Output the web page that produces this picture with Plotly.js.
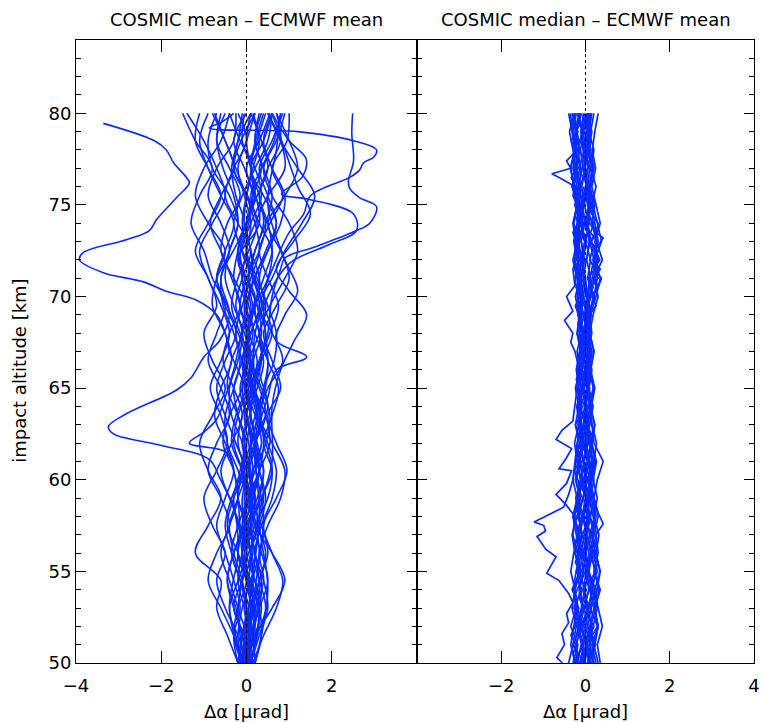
<!DOCTYPE html>
<html>
<head>
<meta charset="utf-8">
<script src="https://cdn.plot.ly/plotly-3.0.1.min.js"></script>
<style>html,body{margin:0;padding:0;background:#fff;}#chart{width:763px;height:723px;}</style>
</head>
<body>
<div id="chart"></div>
<script>
// ---------- DATA ----------
const titleLeft = "COSMIC mean – ECMWF mean";
const titleRight = "COSMIC median – ECMWF mean";
const xLabel = "Δα [μrad]";
const yLabel = "impact altitude [km]";
const xTicksLeft = [-4, -2, 0, 2];
const xTicksRight = [-2, 0, 2, 4];
const yTicks = [50, 55, 60, 65, 70, 75, 80];

// left panel: mean profiles (µrad) at these altitudes (km)
const altLeft = [50, 51.5, 53, 54.5, 56, 57.5, 59, 60.5, 62, 63.5, 65, 66.5, 68, 69.5, 71, 72.5, 74, 75.5, 77, 78.5, 80];
const leftProfiles = [
  [0.0,0.05,0.1,0.0,-0.1,0.05,0.15,0.1,-0.05,0.0,0.1,0.05,-0.1,0.0,0.15,0.1,-0.05,0.0,0.1,-0.1,-0.05],
  [-0.1,-0.05,0.05,0.15,0.1,-0.05,-0.1,0.05,0.2,0.1,-0.05,0.0,0.15,0.05,-0.1,-0.2,0.0,0.2,0.1,0.0,0.1],
  [0.1,0.2,0.15,0.0,0.1,0.25,0.2,0.05,0.1,0.25,0.15,0.0,0.05,0.2,0.3,0.1,0.0,0.15,0.35,0.2,0.3],
  [-0.05,-0.15,-0.2,-0.1,0.0,-0.2,-0.3,-0.15,-0.05,-0.2,-0.3,-0.1,0.0,-0.15,-0.3,-0.2,-0.05,-0.25,-0.35,-0.2,-0.1],
  [0.05,0.1,0.3,0.35,0.2,0.1,0.3,0.4,0.25,0.1,0.2,0.35,0.3,0.15,0.05,0.2,0.4,0.3,0.1,0.25,0.45],
  [-0.15,-0.1,0.0,-0.1,-0.3,-0.4,-0.2,0.0,-0.1,-0.35,-0.4,-0.2,-0.1,-0.3,-0.5,-0.4,-0.2,-0.3,-0.55,-0.7,-0.6],
  [0.2,0.15,0.0,-0.1,0.05,0.3,0.45,0.3,0.1,0.2,0.4,0.5,0.3,0.2,0.4,0.6,0.5,0.3,0.5,0.8,0.7],
  [0.0,-0.1,-0.3,-0.45,-0.3,-0.1,0.0,-0.2,-0.45,-0.5,-0.3,-0.15,-0.3,-0.55,-0.6,-0.4,-0.2,-0.4,-0.8,-0.9,-0.7],
  [0.1,0.3,0.5,0.4,0.2,0.35,0.6,0.7,0.5,0.3,0.4,0.65,0.7,0.5,0.3,0.5,0.8,0.9,0.6,0.4,0.6],
  [-0.1,-0.2,-0.1,0.1,0.2,0.0,-0.2,-0.1,0.1,0.25,0.1,-0.1,-0.25,-0.1,0.1,0.3,0.2,0.0,-0.3,-0.2,0.1],
  [-0.2,-0.45,-0.7,-0.6,-1.2,-0.9,-0.6,-0.9,-1.1,-0.8,-0.5,-0.8,-1.0,-0.7,-0.9,-1.2,-0.9,-0.6,-0.9,-1.2,-1.1],
  [0.15,0.4,0.7,0.85,0.6,0.4,0.7,0.95,0.7,0.5,0.8,0.6,0.4,0.7,1.0,0.8,0.5,0.9,1.2,1.0,0.7],
  [-0.05,-0.3,-0.6,-0.9,-0.7,-0.4,-0.6,-0.9,-0.7,-0.4,-0.6,-0.9,-0.7,-0.5,-0.8,-1.0,-1.3,-1.1,-0.8,-1.2,-1.5],
  [0.0,0.2,0.35,0.2,0.0,0.2,0.5,0.6,0.4,0.6,0.75,0.5,0.3,0.55,0.9,1.2,1.0,0.6,0.4,0.7,0.9],
  [0.05,0.0,-0.2,-0.4,-0.6,-0.4,-0.2,-0.3,-0.55,-0.4,-0.1,0.0,-0.2,-0.5,-0.7,-0.5,-0.9,-1.2,-1.0,-0.6,-0.4],
  [-0.1,0.0,0.15,0.3,0.5,0.35,0.1,0.0,0.2,0.45,0.3,0.05,0.1,0.35,0.2,-0.1,-0.3,-0.1,0.2,0.5,0.6],
  [0.2,0.35,0.3,0.1,-0.1,0.0,0.25,0.4,0.2,0.0,-0.15,0.05,0.3,0.45,0.25,0.0,0.2,0.5,0.9,0.8,0.5],
  [-0.2,-0.3,-0.15,-0.3,-0.5,-0.7,-0.5,-0.3,-0.5,-0.75,-0.6,-0.35,-0.5,-0.8,-0.7,-0.4,-0.6,-0.9,-0.7,-0.3,-0.25],
  [0.0,0.1,-0.05,-0.2,-0.1,0.1,0.2,0.0,-0.2,-0.1,0.1,0.25,0.05,-0.15,0.0,0.3,0.45,0.2,0.0,0.3,0.55],
  [0.1,0.05,0.2,0.4,0.3,0.5,0.8,0.9,0.6,0.3,0.5,0.85,0.6,0.3,0.6,0.9,1.3,1.6,1.2,0.8,0.5],
  [-0.05,0.05,0.0,-0.15,-0.35,-0.2,0.0,-0.1,-0.3,-0.2,0.05,0.15,-0.05,-0.25,-0.1,0.1,-0.2,-0.5,-0.3,0.0,-0.2],
  [0.05,0.15,0.25,0.15,0.3,0.2,0.0,0.15,0.35,0.2,0.0,0.15,0.35,0.25,0.05,0.2,0.45,0.6,0.4,0.2,0.35],
  [-0.15,-0.25,-0.4,-0.2,0.0,-0.15,-0.4,-0.6,-0.35,-0.1,-0.3,-0.55,-0.4,-0.15,-0.35,-0.6,-0.85,-0.6,-0.3,-0.5,-0.8],
  [0.0,0.2,0.6,0.9,0.6,0.2,0.1,0.3,0.2,0.0,0.25,0.4,0.2,0.0,0.2,0.45,0.7,0.5,0.3,0.6,0.85],
  [0.1,-0.05,-0.3,-0.1,0.15,0.05,-0.2,-0.05,0.2,0.35,0.15,-0.05,0.1,0.3,0.15,-0.1,0.1,0.35,0.2,-0.15,-0.4],
  [-0.05,0.1,0.3,0.5,0.35,0.15,0.35,0.6,0.45,0.25,0.1,0.3,0.55,0.75,0.5,0.3,0.55,0.85,0.6,0.95,1.0],
  [0.0,-0.2,-0.5,-0.7,-0.5,-0.8,-1.0,-0.7,-0.45,-0.6,-0.85,-0.6,-0.4,-0.6,-0.9,-1.1,-0.8,-0.5,-0.7,-1.0,-1.4],
  [0.15,0.05,0.1,0.3,0.45,0.25,0.05,0.2,0.45,0.55,0.35,0.1,0.0,0.2,0.5,0.6,0.3,0.1,0.35,0.65,0.8],
  [-0.1,-0.3,-0.2,0.0,-0.2,-0.45,-0.3,-0.05,-0.25,-0.5,-0.7,-0.5,-0.25,-0.45,-0.7,-0.5,-0.3,-0.6,-0.9,-1.1,-0.9],
  [0.05,0.0,0.1,0.05,-0.05,0.1,0.05,-0.1,0.0,0.1,0.0,-0.1,0.05,0.1,-0.05,-0.15,0.05,0.15,-0.05,-0.3,0.0],
  [0.0,0.05,-0.05,0.05,0.1,0.0,-0.05,0.05,0.1,0.0,-0.1,-0.05,0.05,0.0,-0.1,0.0,0.1,-0.05,-0.2,0.0,0.2],
  [-0.05,0.0,0.1,0.0,-0.1,-0.05,0.05,0.15,0.05,-0.05,0.05,0.1,0.0,-0.05,0.05,0.0,-0.1,0.0,0.15,0.3,0.1],
  [0.1,0.25,0.45,0.3,0.1,-0.1,0.05,0.3,0.55,0.45,0.2,0.35,0.6,0.4,0.2,0.5,0.7,0.4,0.1,0.4,0.6],
  [-0.2,-0.1,0.05,-0.15,-0.35,-0.5,-0.35,-0.1,0.0,-0.2,-0.45,-0.35,-0.1,0.0,-0.3,-0.6,-0.45,-0.15,-0.4,-0.7,-0.5],
  [0.0,0.1,0.2,0.0,-0.2,-0.05,0.15,0.3,0.15,0.0,0.15,0.3,0.45,0.25,0.0,-0.2,0.0,0.25,0.5,0.35,0.15],
  [0.05,-0.1,-0.25,-0.45,-0.3,-0.05,0.1,-0.1,-0.35,-0.25,0.0,0.1,-0.15,-0.35,-0.2,0.05,0.25,0.0,-0.25,-0.5,-0.75]
];
// left panel: outlying profiles, each with its own altitudes
const leftOutlierAlts = [
  [50, 53, 56, 59, 62, 64, 66, 67, 68, 69, 69.8, 70.3, 70.8, 71.3, 72.0, 72.4, 73.1, 73.6, 74.2, 75.4, 76.2, 76.5, 77.3, 78.0, 78.5, 79.45],
  [50, 53, 56, 58.5, 59.5, 60.1, 61.1, 61.9, 62.5, 62.9, 63.6, 64.9, 65.6, 66.7, 67.6, 69, 71, 73, 75, 77, 80],
  [50, 53, 56, 59, 60.5, 61.5, 62.0, 62.6, 63.3, 64.5, 66, 68, 70, 72, 74, 77, 80],
  [50, 53, 56, 59, 62, 64, 66, 68, 70, 71.5, 72.1, 72.7, 73.6, 74.0, 74.9, 75.4, 75.9, 76.3, 77.4, 78.9, 80],
  [50, 54, 58, 62, 66, 70, 72, 73.5, 74.5, 75.5, 76.5, 76.9, 77.3, 77.6, 78.0, 78.5, 79.0, 79.2, 79.5, 80],
  [50, 54, 58, 61, 63, 64.5, 66.0, 66.7, 67.6, 69, 70.3, 72, 75, 78, 80],
  [50, 54, 58, 61, 64, 66, 67.5, 69.0, 70.3, 71.5, 73, 74.5, 76, 78, 80],
  [50, 54, 58, 62, 65, 68, 70, 71.8, 72.8, 73.6, 74.5, 75.3, 75.6, 76.5, 77.5, 78.5, 80]
];
const leftOutlierVals = [
  [0.1, 0.3, -0.2, 0.2, -0.1, 0.1, -0.2, -0.4, -0.5, -0.7, -1.17, -1.9, -2.42, -3.36, -3.92, -3.83, -2.82, -2.28, -2.11, -1.64, -1.34, -1.41, -1.71, -1.88, -2.16, -3.36],
  [-0.1, -0.4, -0.2, -0.3, -0.5, -0.63, -0.87, -2.04, -3.12, -3.24, -2.82, -1.64, -1.29, -1.0, -0.63, -0.4, -0.6, -0.2, 0.1, -0.3, 0.2],
  [0.05, 0.2, -0.1, -0.2, -0.3, -0.47, -1.34, -1.0, -0.70, -0.5, -0.3, -0.1, 0.2, -0.2, 0.3, 0.1, 0.4],
  [0.1, 0.3, 0.1, 0.4, 0.2, 0.5, 0.3, 0.5, 0.6, 0.8, 0.9, 1.6, 2.58, 2.89, 3.05, 2.65, 2.42, 2.39, 2.51, 2.47, 2.49],
  [-0.1, 0.1, 0.3, 0.2, 0.5, 0.4, 0.7, 1.0, 1.34, 1.5, 2.42, 2.65, 2.75, 2.98, 3.05, 2.51, 1.2, -0.87, -0.6, -0.3],
  [0.0, 0.2, 0.4, 0.2, 0.3, 0.5, 0.7, 1.41, 0.7, 0.9, 1.2, 0.9, 0.5, 0.7, 0.8],
  [0.2, 0.5, 0.3, 0.6, 0.6, 0.8, 1.1, 1.41, 1.0, 0.7, 1.1, 1.5, 1.2, 0.9, 0.6],
  [0.0, 0.3, 0.1, 0.4, 0.2, 0.2, 0.5, 1.0, 1.9, 2.58, 2.51, 1.48, 0.82, 1.3, 1.4, 1.0, 0.6]
];

// right panel: median profiles (µrad) at these altitudes (km)
const altRight = [50, 51, 52, 53, 54, 55, 56, 57, 58, 59, 60, 61, 62, 63, 64, 65, 66, 67, 68, 69, 70, 71, 72, 73, 74, 75, 76, 77, 78, 79, 80];
const rightProfiles = [
  [-0.05,0.02,-0.08,0.05,-0.02,0.08,-0.04,0.03,-0.07,0.06,-0.01,0.04,-0.06,0.02,-0.03,0.05,-0.08,0.0,-0.05,0.04,-0.1,-0.02,-0.07,0.03,-0.12,-0.04,-0.09,0.0,-0.06,-0.11,-0.03],
  [0.1,0.18,0.05,0.14,0.22,0.08,0.16,0.02,0.12,0.2,0.06,0.15,0.1,0.04,0.13,0.07,0.02,0.11,0.05,-0.02,0.06,0.12,0.03,0.09,-0.01,0.07,0.02,-0.04,0.05,0.1,0.03],
  [-0.15,-0.22,-0.1,-0.18,-0.25,-0.12,-0.2,-0.08,-0.16,-0.23,-0.11,-0.19,-0.07,-0.14,-0.21,-0.09,-0.17,-0.12,-0.2,-0.15,-0.24,-0.13,-0.18,-0.26,-0.15,-0.22,-0.3,-0.18,-0.25,-0.2,-0.28],
  [0.25,0.15,0.3,0.2,0.12,0.28,0.18,0.1,0.22,0.14,0.05,0.18,0.1,0.02,0.12,0.06,-0.02,0.08,0.0,0.1,0.18,0.05,0.12,0.0,0.08,-0.03,0.05,0.1,-0.02,0.04,0.12],
  [-0.3,-0.18,-0.35,-0.22,-0.28,-0.15,-0.25,-0.32,-0.2,-0.12,-0.24,-0.16,-0.08,-0.18,-0.1,-0.2,-0.13,-0.05,-0.15,-0.08,-0.18,-0.25,-0.15,-0.22,-0.3,-0.2,-0.27,-0.35,-0.25,-0.3,-0.22],
  [0.0,-0.08,0.05,-0.03,0.08,0.0,-0.06,0.04,0.1,0.02,-0.05,0.06,0.0,0.08,0.02,-0.04,0.05,0.1,0.03,-0.02,0.04,0.0,-0.08,-0.02,-0.1,-0.05,0.02,-0.06,-0.12,-0.04,0.05],
  [0.35,0.28,0.4,0.3,0.22,0.34,0.25,0.32,0.2,0.28,0.18,0.26,0.15,0.22,0.1,0.2,0.12,0.05,0.15,0.1,0.2,0.28,0.18,0.3,0.22,0.15,0.25,0.12,0.2,0.08,0.15],
  [-0.12,-0.05,-0.18,-0.1,-0.02,-0.14,-0.06,-0.16,-0.08,0.0,-0.1,-0.04,-0.12,-0.06,0.0,-0.08,-0.02,-0.1,-0.04,-0.12,-0.06,-0.16,-0.08,-0.2,-0.12,-0.18,-0.1,-0.22,-0.14,-0.2,-0.26],
  [0.15,0.22,0.3,0.2,0.28,0.35,0.24,0.16,0.25,0.18,0.1,0.2,0.26,0.16,0.08,0.18,0.1,0.15,0.06,0.12,0.25,0.35,0.22,0.38,0.28,0.18,0.1,0.2,0.12,0.06,0.14],
  [-0.4,-0.3,-0.22,-0.32,-0.25,-0.35,-0.28,-0.18,-0.26,-0.2,-0.3,-0.22,-0.15,-0.24,-0.16,-0.1,-0.2,-0.14,-0.06,-0.16,-0.1,-0.2,-0.3,-0.2,-0.28,-0.18,-0.26,-0.36,-0.26,-0.32,-0.4],
  [0.05,0.12,0.0,0.08,0.15,0.05,0.12,0.2,0.1,0.04,0.14,0.08,0.16,0.06,0.1,0.02,0.08,0.0,0.06,0.14,0.04,0.1,0.2,0.1,0.02,0.12,0.04,-0.04,0.02,-0.06,0.0],
  [-0.22,-0.1,-0.18,-0.08,-0.15,-0.05,-0.12,-0.2,-0.1,-0.16,-0.06,-0.14,-0.04,-0.1,-0.18,-0.06,-0.12,-0.02,-0.08,-0.15,-0.05,-0.12,-0.02,-0.1,-0.18,-0.08,-0.14,-0.24,-0.15,-0.22,-0.12],
  [0.2,0.1,0.18,0.28,0.16,0.24,0.12,0.2,0.3,0.2,0.12,0.22,0.14,0.05,0.14,0.22,0.12,0.2,0.1,0.02,0.1,0.16,0.26,0.14,0.05,0.14,0.08,0.16,0.06,0.12,0.2],
  [-0.08,0.0,-0.12,-0.04,-0.14,-0.06,0.02,-0.08,-0.16,-0.06,0.02,-0.06,-0.12,-0.03,0.04,-0.04,-0.1,-0.04,0.03,-0.05,-0.12,-0.2,-0.1,-0.16,-0.06,-0.14,-0.22,-0.12,-0.18,-0.08,-0.16],
  [0.08,0.0,0.1,0.2,0.1,0.02,0.12,0.04,-0.04,0.06,0.14,0.05,-0.02,0.06,0.0,0.08,0.15,0.06,0.0,0.08,0.02,-0.06,0.02,0.1,0.0,-0.08,0.0,0.06,-0.04,0.02,0.1],
  [-0.25,-0.35,-0.28,-0.2,-0.3,-0.22,-0.14,-0.22,-0.3,-0.2,-0.12,-0.2,-0.26,-0.16,-0.08,-0.16,-0.22,-0.14,-0.06,-0.12,-0.2,-0.12,-0.2,-0.28,-0.2,-0.12,-0.2,-0.3,-0.22,-0.3,-0.36],
  [0.3,0.2,0.12,0.24,0.32,0.22,0.14,0.26,0.18,0.08,0.16,0.24,0.14,0.22,0.12,0.04,0.12,0.2,0.1,0.02,0.12,0.2,0.3,0.22,0.35,0.25,0.15,0.24,0.16,0.22,0.3],
  [-0.02,0.06,-0.04,0.04,-0.06,0.02,0.08,-0.02,0.05,-0.05,0.03,-0.03,0.05,-0.04,0.02,-0.06,0.0,0.06,-0.02,0.04,-0.04,-0.12,-0.04,-0.1,-0.02,-0.08,-0.16,-0.08,-0.02,-0.1,-0.05],
  [0.12,0.04,0.14,0.06,0.18,0.08,0.0,0.1,0.02,0.12,0.2,0.1,0.02,0.1,0.18,0.08,0.14,0.04,0.1,0.18,0.3,0.2,0.4,0.26,0.15,0.22,0.1,0.18,0.08,0.15,0.05],
  [-0.18,-0.28,-0.16,-0.24,-0.12,-0.2,-0.1,-0.18,-0.26,-0.15,-0.22,-0.12,-0.2,-0.1,-0.16,-0.24,-0.14,-0.2,-0.1,-0.18,-0.08,-0.16,-0.26,-0.18,-0.28,-0.2,-0.32,-0.22,-0.3,-0.38,-0.26]
];
// right panel: finer-sampled median profiles (every 0.5 km)
const altRightFine = [50, 50.5, 51, 51.5, 52, 52.5, 53, 53.5, 54, 54.5,
  55, 55.5, 56, 56.5, 57, 57.5, 58, 58.5, 59, 59.5,
  60, 60.5, 61, 61.5, 62, 62.5, 63, 63.5, 64, 64.5,
  65, 65.5, 66, 66.5, 67, 67.5, 68, 68.5, 69, 69.5,
  70, 70.5, 71, 71.5, 72, 72.5, 73, 73.5, 74, 74.5,
  75, 75.5, 76, 76.5, 77, 77.5, 78, 78.5, 79, 79.5, 80];
const rightFineProfiles = [
  [-0.08,-0.15,-0.05,-0.12,-0.2,-0.1,-0.04,-0.14,-0.08,-0.18,
   -0.1,-0.02,-0.12,-0.06,-0.16,-0.09,-0.03,-0.13,-0.07,-0.17,
   -0.11,-0.05,-0.14,-0.08,-0.02,-0.1,-0.16,-0.06,-0.12,-0.04,
   -0.1,-0.18,-0.08,-0.14,-0.05,-0.11,-0.2,-0.1,-0.15,-0.07,
   -0.13,-0.22,-0.12,-0.18,-0.08,-0.14,-0.24,-0.13,-0.19,-0.1,
   -0.16,-0.25,-0.14,-0.2,-0.12,-0.18,-0.28,-0.16,-0.22,-0.12,-0.2],
  [0.05,0.15,0.02,0.1,0.2,0.06,0.14,0.0,0.09,0.18,
   0.04,0.12,0.22,0.08,0.16,0.03,0.11,0.02,0.1,0.05,
   0.13,0.04,0.1,0.0,0.07,0.14,0.03,0.09,-0.02,0.05,
   0.1,0.01,0.06,-0.03,0.04,0.1,0.0,0.05,0.12,0.02,
   0.08,0.18,0.06,0.22,0.1,0.16,0.28,0.12,0.2,0.06,
   0.12,0.02,0.08,-0.02,0.05,0.1,0.0,0.06,-0.04,0.03,0.08],
  [-0.25,-0.18,-0.3,-0.2,-0.12,-0.24,-0.16,-0.28,-0.2,-0.1,
   -0.22,-0.14,-0.26,-0.18,-0.1,-0.2,-0.3,-0.16,-0.22,-0.12,
   -0.18,-0.26,-0.15,-0.2,-0.1,-0.17,-0.24,-0.13,-0.19,-0.09,
   -0.15,-0.22,-0.12,-0.18,-0.08,-0.14,-0.2,-0.1,-0.17,-0.24,
   -0.14,-0.2,-0.1,-0.18,-0.27,-0.15,-0.22,-0.3,-0.18,-0.25,
   -0.15,-0.22,-0.32,-0.2,-0.27,-0.17,-0.24,-0.34,-0.22,-0.3,-0.25],
  [0.0,-0.08,0.04,-0.04,-0.12,-0.02,0.06,-0.06,0.02,-0.1,
   0.0,0.08,-0.03,0.04,-0.07,0.01,0.07,-0.04,0.03,-0.08,
   -0.02,0.05,-0.06,0.0,-0.1,-0.03,0.03,-0.07,-0.01,-0.12,
   -0.05,0.02,-0.08,-0.02,-0.11,-0.04,0.01,-0.09,-0.03,-0.13,
   -0.06,0.0,-0.1,-0.04,-0.14,-0.07,-0.01,-0.11,-0.05,-0.15,
   -0.08,-0.02,-0.12,-0.06,-0.16,-0.09,-0.03,-0.13,-0.07,-0.15,-0.1],
  [-0.2,-0.3,-0.22,-0.35,-0.25,-0.15,-0.28,-0.2,-0.32,-0.22,
   -0.14,-0.24,-0.16,-0.26,-0.18,-0.1,-0.2,-0.12,-0.22,-0.15,
   -0.08,-0.17,-0.1,-0.2,-0.12,-0.05,-0.14,-0.07,-0.16,-0.1,
   -0.18,-0.11,-0.2,-0.13,-0.06,-0.15,-0.09,-0.18,-0.12,-0.22,
   -0.14,-0.08,-0.17,-0.26,-0.16,-0.24,-0.14,-0.2,-0.1,-0.18,
   -0.26,-0.16,-0.24,-0.34,-0.22,-0.3,-0.2,-0.28,-0.18,-0.26,-0.32],
  [0.2,0.12,0.24,0.16,0.28,0.2,0.1,0.18,0.26,0.14,
   0.22,0.3,0.18,0.25,0.12,0.2,0.1,0.16,0.06,0.13,
   0.04,0.11,0.18,0.08,0.14,0.03,0.1,0.0,0.07,0.14,
   0.05,0.12,0.02,0.08,0.15,0.04,0.1,0.0,0.06,0.13,
   0.22,0.12,0.3,0.2,0.34,0.24,0.14,0.26,0.16,0.08,
   0.15,0.05,0.12,0.2,0.1,0.04,0.12,0.02,0.08,-0.02,0.05]
];
// right panel: outlying median profiles, each with its own altitudes
const rightOutlierAlts = [
  [72, 73, 74, 75, 75.5, 76, 76.4, 76.7, 77.0, 77.4, 78, 79, 80],
  [66, 67, 68, 69, 69.5, 70, 70.5, 71, 71.5, 72, 72.5, 73, 73.2, 73.5, 74, 74.5, 75, 76, 77],
  [67, 68, 69, 70, 70.5, 71, 71.5, 72, 72.5, 73, 73.5, 74, 75, 76],
  [64, 65, 66, 67, 67.5, 68, 68.7, 69.2, 70.0, 70.6, 71.5, 72.5, 74],
  [50, 50.3, 51.0, 51.6, 52.2, 52.7, 53.3, 53.8, 54.5, 54.9, 55.4, 55.8, 56.2, 56.9, 57.2, 57.5, 57.7, 58.2, 58.5, 59.2, 60, 61, 62],
  [56, 57, 58, 58.6, 59.2, 59.8, 60.5, 60.6, 61.2, 61.7, 62.2, 62.7, 63.2, 64, 65, 66],
  [50, 51, 52, 53, 54, 55, 56, 57, 57.6, 58.2, 59, 60, 61, 62, 63, 64]
];
const rightOutlierVals = [
  [-0.1, -0.2, -0.15, -0.2, -0.3, -0.25, -0.55, -0.8, -0.35, -0.45, -0.2, -0.25, -0.15],
  [0.0, 0.08, 0.05, 0.1, 0.25, 0.15, 0.3, 0.38, 0.2, 0.3, 0.22, 0.35, 0.42, 0.25, 0.3, 0.15, 0.1, 0.05, 0.0],
  [-0.05, 0.05, 0.0, 0.12, 0.3, 0.22, 0.35, 0.18, 0.28, 0.12, 0.24, 0.1, 0.05, -0.05],
  [-0.1, -0.2, -0.15, -0.25, -0.35, -0.3, -0.5, -0.3, -0.45, -0.25, -0.3, -0.15, -0.2],
  [-0.55, -0.68, -0.5, -0.56, -0.4, -0.45, -0.3, -0.4, -0.63, -0.92, -0.8, -0.7, -0.94, -1.15, -0.95, -0.99, -1.22, -0.8, -0.52, -0.4, -0.3, -0.25, -0.2],
  [-0.2, -0.3, -0.25, -0.45, -0.7, -0.45, -0.33, -0.63, -0.45, -0.33, -0.7, -0.56, -0.3, -0.25, -0.2, -0.15],
  [0.1, 0.2, 0.3, 0.22, 0.35, 0.2, 0.3, 0.25, 0.42, 0.3, 0.2, 0.28, 0.42, 0.2, 0.15, 0.1]
];

// ---------- PLOT ----------
const BLUE = "#0a2bff";
const FONT = "DejaVu Sans, Noto Sans, sans-serif";
const traces = [];
const leftLine = {color: BLUE, width: 1.6, shape: "spline", smoothing: 1};
const rightLine = {color: BLUE, width: 1.7};
leftProfiles.forEach(v => traces.push({x: v, y: altLeft, xaxis: "x", yaxis: "y", mode: "lines", line: leftLine, hoverinfo: "skip"}));
leftOutlierVals.forEach((v, i) => traces.push({x: v, y: leftOutlierAlts[i], xaxis: "x", yaxis: "y", mode: "lines", line: leftLine, hoverinfo: "skip"}));
rightProfiles.forEach(v => traces.push({x: v, y: altRight, xaxis: "x2", yaxis: "y2", mode: "lines", line: rightLine, hoverinfo: "skip"}));
rightFineProfiles.forEach(v => traces.push({x: v, y: altRightFine, xaxis: "x2", yaxis: "y2", mode: "lines", line: rightLine, hoverinfo: "skip"}));
rightOutlierVals.forEach((v, i) => traces.push({x: v, y: rightOutlierAlts[i], xaxis: "x2", yaxis: "y2", mode: "lines", line: rightLine, hoverinfo: "skip"}));

const xCommon = {range: [-4, 4], showgrid: false, zeroline: false, showline: true, linecolor: "#000", linewidth: 1,
  mirror: "ticks", ticks: "inside", ticklen: 12, tickcolor: "#000", tickwidth: 1, ticklabelstandoff: 6,
  tickfont: {family: FONT, size: 18, color: "#000"}, title: {text: xLabel, font: {family: FONT, size: 18, color: "#000"}, standoff: 10}};
const yCommon = {range: [50, 84], showgrid: false, zeroline: false, showline: true, linecolor: "#000", linewidth: 1,
  mirror: "ticks", ticks: "inside", ticklen: 10, tickcolor: "#000", tickwidth: 1, tickvals: yTicks,
  minor: {tick0: 50, dtick: 1, ticks: "inside", ticklen: 5, tickcolor: "#000", tickwidth: 1, showgrid: false},
  tickfont: {family: FONT, size: 18, color: "#000"}};

const layout = {
  width: 763, height: 723,
  margin: {l: 76, r: 9, t: 40, b: 60},
  paper_bgcolor: "#fff", plot_bgcolor: "#fff",
  showlegend: false,
  xaxis: Object.assign({}, xCommon, {domain: [0, 0.503], anchor: "y", tickvals: xTicksLeft}),
  xaxis2: Object.assign({}, xCommon, {domain: [0.503, 1], anchor: "y2", tickvals: xTicksRight}),
  yaxis: Object.assign({}, yCommon, {anchor: "x"}),
  yaxis2: Object.assign({}, yCommon, {anchor: "x2", matches: "y", showticklabels: false}),
  shapes: [
    {type: "line", xref: "x", yref: "y", x0: 0, x1: 0, y0: 50, y1: 84, line: {color: "#000", width: 1, dash: "dot"}, layer: "above"},
    {type: "line", xref: "x2", yref: "y2", x0: 0, x1: 0, y0: 50, y1: 84, line: {color: "#000", width: 1, dash: "dot"}, layer: "above"}
  ],
  annotations: [
    {text: titleLeft, xref: "paper", yref: "paper", x: 0.2515, y: 1, yshift: 21, showarrow: false,
     xanchor: "center", yanchor: "middle", font: {family: FONT, size: 18, color: "#000"}},
    {text: titleRight, xref: "paper", yref: "paper", x: 0.7515, y: 1, yshift: 21, showarrow: false,
     xanchor: "center", yanchor: "middle", font: {family: FONT, size: 18, color: "#000"}},
    {text: yLabel, xref: "paper", yref: "paper", x: -0.0826, y: 0.469, textangle: -90, showarrow: false,
     xanchor: "center", yanchor: "middle", font: {family: FONT, size: 18, color: "#000"}}
  ]
};

Plotly.newPlot("chart", traces, layout, {displayModeBar: false, staticPlot: true});
</script>
</body>
</html>
